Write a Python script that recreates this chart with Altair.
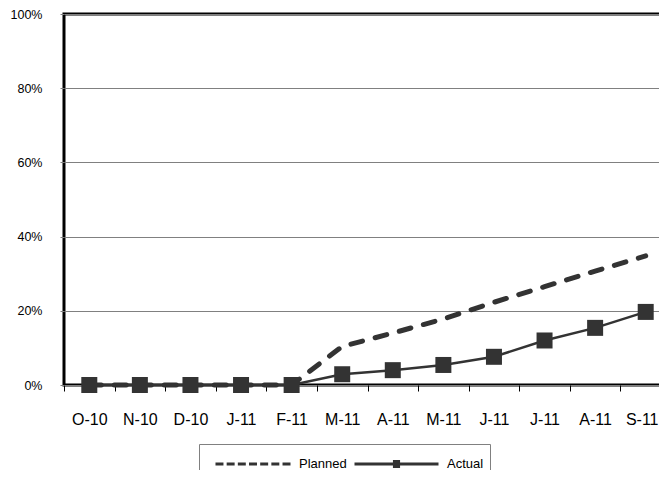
import altair as alt
import pandas as pd

months = ["O-10", "N-10", "D-10", "J-11", "F-11", "M-11", "A-11", "M-11", "J-11", "J-11", "A-11", "S-11"]
planned = [0, 0, 0, 0, 0, 0.104, 0.140, 0.178, 0.223, 0.265, 0.307, 0.348]
actual = [0, 0, 0, 0, 0, 0.029, 0.040, 0.054, 0.076, 0.120, 0.154, 0.197]
series_names = ["Planned", "Actual"]
y_ticks = [0, 0.2, 0.4, 0.6, 0.8, 1.0]

rows = []
for i, m in enumerate(months):
    rows.append({"idx": i, "month": m, "series": "Planned", "value": planned[i]})
    rows.append({"idx": i, "month": m, "series": "Actual", "value": actual[i]})
df = pd.DataFrame(rows)

last_idx = len(months) - 1
label_expr = "[" + ",".join(f"'{m}'" for m in months) + "][datum.value]"
FONT = "Liberation Sans"
INK = "#333333"

x_enc = alt.X(
    "idx:O",
    scale=alt.Scale(type="band", paddingInner=0, paddingOuter=0),
    axis=alt.Axis(labelExpr=label_expr, labelAngle=0, tickBand="extent", tickSize=6,
                  tickColor="#000000", labelFontSize=16, labelPadding=20, labelFont=FONT,
                  labelColor="#000000", domain=False, title=None, grid=False,
                  labelOffset={"condition": {"test": f"datum.value == {last_idx}", "value": -4},
                               "value": 0}),
)
y_enc = alt.Y(
    "value:Q",
    scale=alt.Scale(domain=[0, 1], nice=False),
    axis=alt.Axis(values=y_ticks, format=".0%", tickSize=4, tickColor="#808080",
                  gridColor="#808080", gridWidth=1, labelFontSize=12.5, labelPadding=18,
                  labelFont=FONT, labelColor="#000000", domain=False, title=None),
)

base = alt.Chart(df).encode(x=x_enc, y=y_enc)

planned_line = base.transform_filter(alt.datum.series == "Planned").mark_line(
    color=INK, strokeWidth=5, strokeDash=[12, 13], strokeCap="round"
)
actual_line = base.transform_filter(alt.datum.series == "Actual").mark_line(
    color=INK, strokeWidth=2.5
)
actual_pts = base.transform_filter(alt.datum.series == "Actual").mark_point(
    shape="square", filled=True, size=256, color=INK, opacity=1
)

planned_path = ("M-0.786,0H-0.596M-0.52,0H-0.33M-0.254,0H-0.064M0.012,0H0.202"
                "M0.278,0H0.468M0.544,0H0.734M0.81,0H1")
actual_path = "M-1,0H1M-0.085,-0.06H0.085M-0.085,0.06H0.085"

legend_layer = base.transform_filter("false").mark_point(
    filled=False, color=INK, strokeWidth=3, opacity=1
).encode(
    shape=alt.Shape(
        "series:N",
        scale=alt.Scale(domain=series_names, range=[planned_path, actual_path]),
        legend=alt.Legend(
            title=None, orient="none", legendX=135, legendY=430, direction="horizontal",
            symbolSize=7056, clipHeight=28, labelOffset=7, columnPadding=6, padding=6,
            strokeColor="#808080", fillColor="white", labelFontSize=13, labelFont=FONT,
            labelColor="#000000", symbolStrokeWidth=3, symbolStrokeColor=INK,
            symbolOpacity=1, symbolOffset=0,
        ),
    )
)

chart = alt.layer(planned_line, actual_line, actual_pts, legend_layer).properties(
    width=607,
    height=371,
    padding={"left": 56, "top": 6, "right": -12, "bottom": 85},
    autosize=alt.AutoSizeParams(type="none"),
).configure_view(stroke="black", strokeWidth=3)

chart.save("out.html", embed_options={"renderer": "svg", "actions": False})
